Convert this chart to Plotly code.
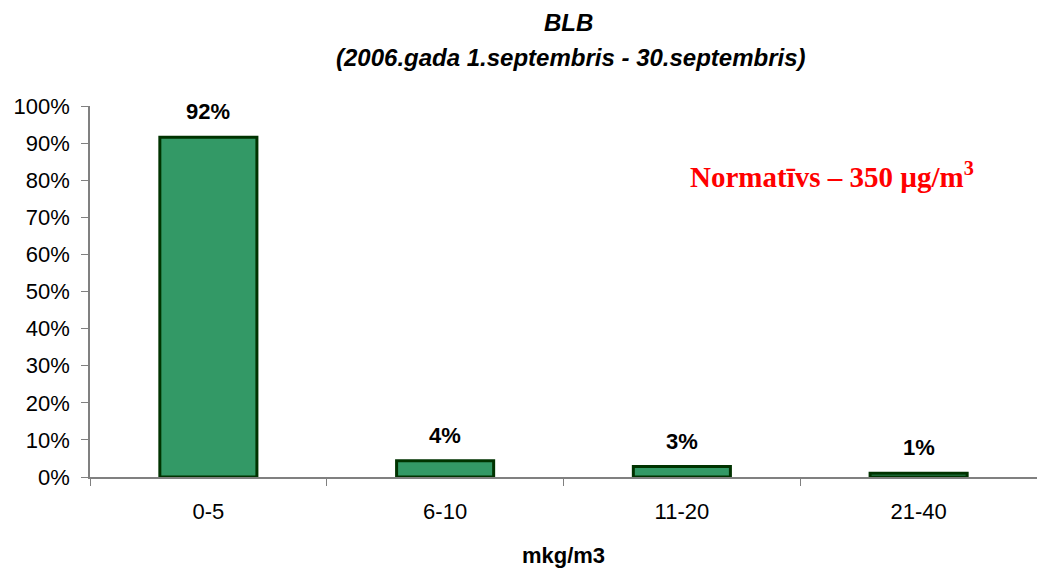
import plotly.graph_objects as go

categories = ["0-5", "6-10", "11-20", "21-40"]
values = [0.916, 0.044, 0.028, 0.010]
labels = ["92%", "4%", "3%", "1%"]
y_ticks = [0, 0.1, 0.2, 0.3, 0.4, 0.5, 0.6, 0.7, 0.8, 0.9, 1.0]

fig = go.Figure()
fig.add_trace(go.Bar(
    x=categories, y=values,
    marker=dict(color="#339966", line=dict(color="#003300", width=3)),
    width=0.41, hoverinfo="skip",
))
for cat, val, lab in zip(categories, values, labels):
    fig.add_annotation(
        x=cat, y=val, xref="x", yref="y", text="<b>" + lab + "</b>",
        showarrow=False, xanchor="center", yanchor="bottom", yshift=11,
        font=dict(family="Liberation Sans, Arial", size=22, color="black"),
    )

fig.update_layout(
    width=1037, height=568,
    margin=dict(l=90, r=0, t=106, b=91, autoexpand=False),
    plot_bgcolor="white", paper_bgcolor="white",
    showlegend=False,
    font=dict(family="Liberation Sans, Arial", size=22, color="black"),
)
fig.update_xaxes(
    automargin=False,
    showline=True, linecolor="#808080", linewidth=1.5,
    ticks="outside", tickson="boundaries", ticklen=7, tickcolor="#808080",
    tickfont=dict(size=22), showgrid=False, ticklabelstandoff=14,
    title=dict(text="<b>mkg/m3</b>", font=dict(size=22), standoff=24),
)
fig.update_yaxes(
    automargin=False,
    range=[0, 1], tickvals=y_ticks, tickformat=".0%",
    showline=True, linecolor="#808080", linewidth=1.5,
    ticks="outside", ticklen=7, tickcolor="#808080",
    tickfont=dict(size=22), showgrid=False, zeroline=False, ticklabelstandoff=7,
)
title_font = dict(family="Liberation Sans, Arial", size=24, color="black")
fig.add_annotation(x=(568 - 90) / 947, y=(477 - 22) / 371, xref="paper", yref="paper",
                   text="<b><i>BLB</i></b>", showarrow=False,
                   xanchor="center", yanchor="middle", font=title_font)
fig.add_annotation(x=(571 - 90) / 947, y=(477 - 57) / 371, xref="paper", yref="paper",
                   text="<b><i>(2006.gada 1.septembris - 30.septembris)</i></b>",
                   showarrow=False, xanchor="center", yanchor="middle", font=title_font)
fig.add_annotation(
    x=(832 - 90) / 947, y=(477 - 175) / 371, xref="paper", yref="paper",
    text="<b>Normatīvs – 350 µg/m<sup>3</sup></b>",
    showarrow=False, xanchor="center", yanchor="middle",
    font=dict(family="Liberation Serif, Times New Roman", size=29, color="#ff0000"),
)
fig.write_html("out.html", config={"displayModeBar": False},
               post_script="document.body.style.margin='0';")
